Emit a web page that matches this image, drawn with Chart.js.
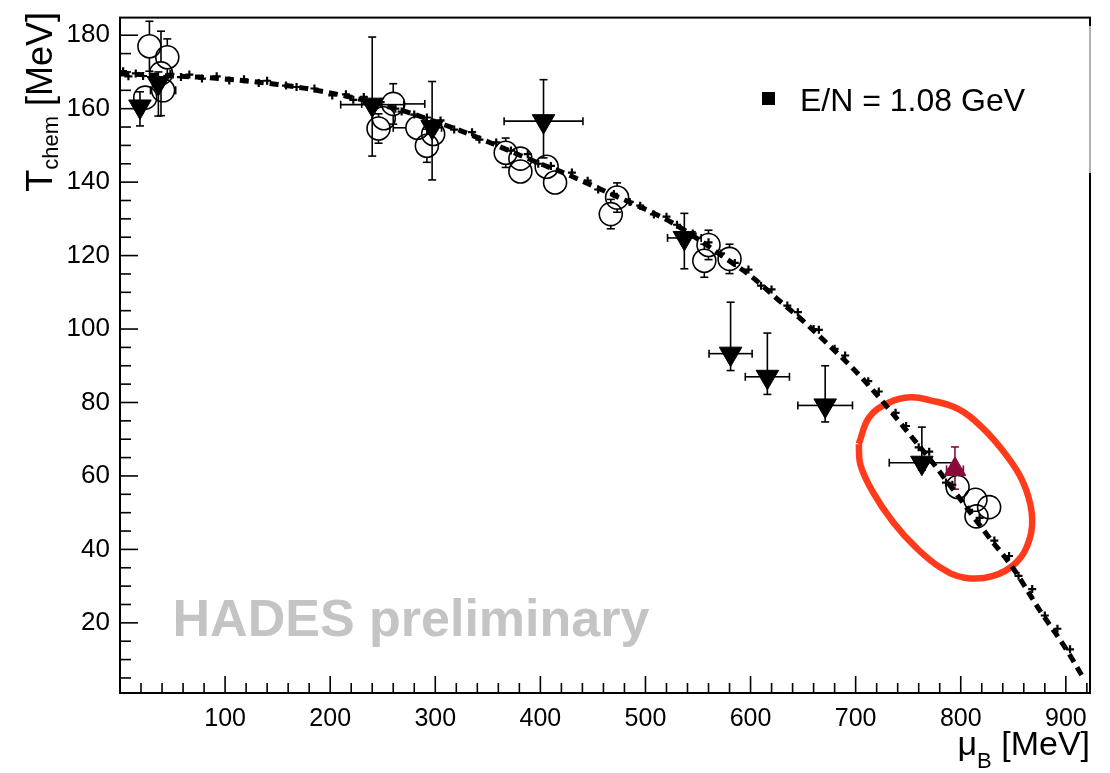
<!DOCTYPE html>
<html>
<head>
<meta charset="utf-8">
<script src="https://cdn.jsdelivr.net/npm/chart.js@4.4.0/dist/chart.umd.min.js"></script>
<style>
  html, body { margin: 0; padding: 0; background: #fff; }
</style>
</head>
<body>
<canvas id="c" width="1110" height="773"></canvas>
<script>
// freeze-out curve E/N = 1.08 GeV (dashed band)
const curveMu = [0, 10, 25, 50, 75, 100, 125, 150, 175, 200, 225, 250, 275, 300, 325, 350, 375, 400, 425, 450,
  475, 500, 525, 550, 575, 600, 625, 650, 675, 700, 725, 750, 775, 800, 825, 850, 875, 900, 915];
const curveT = [169.5, 169.4, 169.2, 168.9, 168.6, 168.1, 167.4, 166.6, 165.6, 164.3, 162.8, 161, 158.9, 156.5, 153.9, 151, 148, 145, 142.2, 139,
  135.8, 132.6, 129, 124.5, 119.5, 114.5, 108.3, 102.2, 95.5, 88.5, 80.5, 71.8, 63, 53.5, 44, 34.8, 23.5, 13, 5.8];

// the small "+" markers along the band
const crossMu = [3, 8, 15, 22, 48, 58, 66, 78, 92, 104, 118, 132, 140, 158, 168, 185, 202, 215, 222, 232, 248, 262, 268, 280, 292,
  305, 318, 335, 342, 358, 372, 388, 398, 410, 430, 445, 455, 470, 485, 495, 508, 520, 530, 545, 560, 572, 585, 598, 610, 620,
  635, 645, 660, 665, 680, 690, 712, 722, 738, 748, 760, 770, 786, 792, 808, 818, 832, 846, 855, 868, 880, 892, 904];
const crossT = [170.2, 168.8, 169.6, 168.9, 169.5, 168.6, 169.3, 168.2, 168.8, 167.7, 168.0, 167.0, 167.6, 166.3, 165.9, 165.5, 163.6, 163.9, 162.4, 163.2, 161.8, 160.0, 159.2, 158.4, 157.6,
  156.8, 154.3, 153.6, 151.6, 150.8, 148.6, 147.6, 145.0, 144.4, 142.6, 140.4, 138.0, 136.8, 134.6, 133.6, 131.2, 130.6, 128.4, 126.0, 123.6, 120.6, 118.0, 116.2, 111.8, 110.8,
  106.4, 104.6, 100.0, 99.8, 94.6, 92.8, 85.8, 83.0, 77.2, 73.6, 67.8, 66.6, 58.2, 57.6, 50.8, 48.6, 42.4, 38.2, 32.8, 29.2, 22.0, 18.4, 12.8];

// open circles
const circMu = [28, 45, 39, 41, 24, 260, 246, 251, 283, 298, 292, 367, 381, 381, 406, 414, 473, 467, 560, 556, 580, 797, 814, 827, 815];
const circT = [177, 174, 169.6, 165, 163, 161.3, 154.6, 157.4, 154.8, 153.1, 149.9, 148, 146.4, 142.9, 144.2, 139.9, 135.8, 131.3, 122.9, 118.6, 119.1, 57, 53.5, 51.5, 49];
const circEy = [6.8, 5, 11.5, 2, 3, 5.5, 4, 3, 3, 3, 4.5, 4, 3, 3, 3, 2.5, 4, 4, 4, 4.5, 4, 2, 2, 2, 3];
const circEx = [0, 0, 0, 12, 0, 30, 8, 0, 23, 0, 0, 6, 6, 0, 0, 6, 6, 6, 6, 6, 8, 0, 6, 10, 6];

// filled down triangles
const triMu = [19, 36.5, 240, 297, 403, 537, 581, 616, 671, 763];
const triT = [160.6, 167, 161.1, 155, 156.6, 124.8, 93.3, 87, 79.2, 63.6];
const triEyUp = [4, 3, 18.4, 12.4, 11.3, 6.7, 14, 11.9, 10.8, 9.7];
const triEyDn = [5.3, 9, 14, 14.4, 10, 8.4, 4.6, 4.8, 4.5, 2];
const triEx = [3, 4, 30, 5, 37.5, 16, 20.5, 21, 26, 31];

// HADES point
const hadesMu = [794.5];
const hadesT = [61.8];
const hadesEyUp = [6.1];
const hadesEyDn = [5.4];
const hadesEx = [8];

// red ellipse outline
const ellMu = [703, 713, 732, 752, 771, 797, 820, 843, 859, 867.5, 865.6, 852.7, 830, 803.6, 781, 758.5, 735.7, 716, 704.5, 703];
const ellT = [68.7, 76, 80, 81.4, 80.6, 78.3, 73.3, 65.8, 58.5, 50.1, 42.9, 36.4, 32.7, 32.3, 35, 40.2, 47.4, 55.8, 63.1, 68.7];

const xLabels = [100, 200, 300, 400, 500, 600, 700, 800, 900];
const yLabels = [20, 40, 60, 80, 100, 120, 140, 160, 180];

const FONT = '"Liberation Sans", Arial, Helvetica, sans-serif';

function pts(xs, ys) {
  return xs.map((v, i) => ({ x: v, y: ys[i] }));
}

function seg(ctx, x1, y1, x2, y2) {
  ctx.beginPath();
  ctx.moveTo(x1, y1);
  ctx.lineTo(x2, y2);
  ctx.stroke();
}

// error bars with end caps, leaving a gap of size "gap" round the marker
function drawErrors(chart, mu, t, exLo, exHi, eyUp, eyDn, gap, color) {
  const ctx = chart.ctx, xs = chart.scales.x, ys = chart.scales.y;
  const cap = 4;
  ctx.save();
  ctx.strokeStyle = color;
  ctx.lineWidth = 1.6;
  for (let i = 0; i < mu.length; i++) {
    const px = xs.getPixelForValue(mu[i]);
    const py = ys.getPixelForValue(t[i]);
    if (eyUp[i] > 0) {
      const y2 = ys.getPixelForValue(t[i] + eyUp[i]);
      if (py - y2 > gap) {
        seg(ctx, px, py - gap, px, y2);
        seg(ctx, px - cap, y2, px + cap, y2);
      }
    }
    if (eyDn[i] > 0) {
      const y2 = ys.getPixelForValue(t[i] - eyDn[i]);
      if (y2 - py > gap) {
        seg(ctx, px, py + gap, px, y2);
        seg(ctx, px - cap, y2, px + cap, y2);
      }
    }
    if (exLo[i] > 0) {
      const x2 = xs.getPixelForValue(mu[i] - exLo[i]);
      if (px - x2 > gap) {
        seg(ctx, px - gap, py, x2, py);
        seg(ctx, x2, py - cap, x2, py + cap);
      }
    }
    if (exHi[i] > 0) {
      const x2 = xs.getPixelForValue(mu[i] + exHi[i]);
      if (x2 - px > gap) {
        seg(ctx, px + gap, py, x2, py);
        seg(ctx, x2, py - cap, x2, py + cap);
      }
    }
  }
  ctx.restore();
}

const rootStyle = {
  id: 'rootStyle',
  beforeDatasetsDraw(chart) {
    const ctx = chart.ctx, xs = chart.scales.x, ys = chart.scales.y;
    // watermark
    ctx.save();
    ctx.fillStyle = '#c4c4c4';
    ctx.font = 'bold 52px ' + FONT;
    ctx.textBaseline = 'alphabetic';
    ctx.fillText('HADES preliminary', xs.getPixelForValue(50), ys.getPixelForValue(16.5));
    ctx.restore();
    drawErrors(chart, circMu, circT, circEx, circEx, circEy, circEy, 11.5, '#000');
    drawErrors(chart, triMu, triT, triEx, triEx, triEyUp, triEyDn, 0, '#000');
    drawErrors(chart, hadesMu, hadesT, hadesEx, hadesEx, hadesEyUp, hadesEyDn, 0, '#8a0b3b');
  },
  afterDraw(chart) {
    const ctx = chart.ctx, a = chart.chartArea, xs = chart.scales.x, ys = chart.scales.y;
    ctx.save();
    ctx.strokeStyle = '#000';
    ctx.lineWidth = 2;
    ctx.strokeRect(a.left, a.top, a.right - a.left, a.bottom - a.top);
    // legend box hides part of the right frame
    ctx.strokeStyle = '#b0b0b0';
    seg(ctx, a.right, 26, a.right, 173);

    // inward ticks
    ctx.strokeStyle = '#000';
    ctx.lineWidth = 1.6;
    for (let v = 20; v <= 920; v += 20) {
      const px = xs.getPixelForValue(v);
      const len = v % 100 === 0 ? 17 : 10;
      seg(ctx, px, a.bottom, px, a.bottom - len);
    }
    for (let v = 5; v <= 184; v += 5) {
      const py = ys.getPixelForValue(v);
      const len = v % 20 === 0 ? 18 : 11;
      seg(ctx, a.left, py, a.left + len, py);
    }

    // legend
    ctx.fillStyle = '#000';
    ctx.fillRect(762, 92, 13, 13);
    ctx.font = '32px ' + FONT;
    ctx.textBaseline = 'alphabetic';
    ctx.fillText('E/N = 1.08 GeV', 800, 111);

    // y title: T_chem [MeV], rotated, ending near the top
    ctx.save();
    ctx.translate(52, 12);
    ctx.rotate(-Math.PI / 2);
    ctx.font = '36px ' + FONT;
    const wT = ctx.measureText('T').width;
    const wRest = ctx.measureText(' [MeV]').width;
    ctx.font = '22px ' + FONT;
    const wSub = ctx.measureText('chem').width;
    let s = -(wT + wSub + wRest);
    ctx.font = '36px ' + FONT;
    ctx.fillText('T', s, 0);
    ctx.font = '22px ' + FONT;
    ctx.fillText('chem', s + wT, 6);
    ctx.font = '36px ' + FONT;
    ctx.fillText(' [MeV]', s + wT + wSub, 0);
    ctx.restore();

    // x title: mu_B [MeV], right aligned
    ctx.font = '34px ' + FONT;
    const wMu = ctx.measureText('\u03bc').width;
    const wR = ctx.measureText(' [MeV]').width;
    ctx.font = '22px ' + FONT;
    const wB = ctx.measureText('B').width;
    let x0 = a.right - (wMu + wB + wR);
    ctx.font = '34px ' + FONT;
    ctx.fillText('\u03bc', x0, 755);
    ctx.font = '22px ' + FONT;
    ctx.fillText('B', x0 + wMu, 768);
    ctx.font = '34px ' + FONT;
    ctx.fillText(' [MeV]', x0 + wMu + wB, 755);
    ctx.restore();
  }
};

new Chart(document.getElementById('c'), {
  type: 'scatter',
  data: {
    datasets: [
      {
        label: 'crosses',
        data: pts(crossMu, crossT),
        pointStyle: 'cross',
        pointRadius: 4,
        borderColor: '#000',
        borderWidth: 2.2,
        order: 1
      },
      {
        label: 'HADES',
        data: pts(hadesMu, hadesT),
        pointStyle: 'triangle',
        pointRadius: 12.5,
        backgroundColor: '#8a0b3b',
        borderColor: '#8a0b3b',
        borderWidth: 1,
        order: 2
      },
      {
        label: 'triangles',
        data: pts(triMu, triT),
        pointStyle: 'triangle',
        rotation: 180,
        pointRadius: 13,
        backgroundColor: '#000',
        borderColor: '#000',
        borderWidth: 1,
        order: 3
      },
      {
        label: 'circles',
        data: pts(circMu, circT),
        pointStyle: 'circle',
        pointRadius: 11.5,
        backgroundColor: 'rgba(0,0,0,0)',
        borderColor: '#000',
        borderWidth: 1.6,
        order: 4
      },
      {
        label: 'E/N = 1.08 GeV',
        data: pts(curveMu, curveT),
        showLine: true,
        cubicInterpolationMode: 'monotone',
        borderColor: '#000',
        borderWidth: 5,
        borderDash: [9, 6],
        pointRadius: 0,
        order: 5
      },
      {
        label: 'ellipse',
        data: pts(ellMu, ellT),
        showLine: true,
        tension: 0.4,
        borderColor: '#ff3b1c',
        borderWidth: 6.5,
        pointRadius: 0,
        order: 6
      }
    ]
  },
  plugins: [rootStyle],
  options: {
    responsive: false,
    animation: false,
    events: [],
    layout: { padding: { left: 0, right: 20, top: 10, bottom: 0 } },
    plugins: { legend: { display: false }, tooltip: { enabled: false } },
    scales: {
      x: {
        type: 'linear',
        min: 0,
        max: 923,
        grid: { display: false },
        border: { display: false },
        afterFit: s => { s.height = 80; },
        afterBuildTicks: s => { s.ticks = xLabels.map(v => ({ value: v })); },
        ticks: { font: { family: FONT, size: 25 }, color: '#000', padding: 3, maxRotation: 0 }
      },
      y: {
        type: 'linear',
        min: 0.9,
        max: 184.8,
        grid: { display: false },
        border: { display: false },
        afterFit: s => { s.width = 120; },
        afterBuildTicks: s => { s.ticks = yLabels.map(v => ({ value: v })); },
        ticks: { font: { family: FONT, size: 26 }, color: '#000', padding: 2 }
      }
    }
  }
});
</script>
</body>
</html>
